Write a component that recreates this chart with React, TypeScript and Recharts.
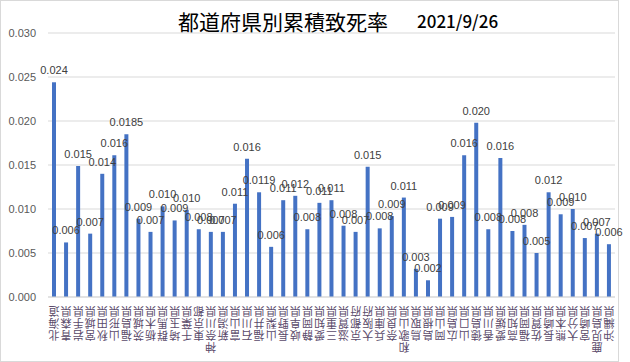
import { BarChart, Bar, XAxis, YAxis, CartesianGrid, LabelList } from "recharts";

const prefectures = [
    "北海道", "青森県", "岩手県", "宮城県", "秋田県", "山形県", "福島県", "茨城県",
    "栃木県", "群馬県", "埼玉県", "千葉県", "東京都", "神奈川県", "新潟県", "富山県",
    "石川県", "福井県", "山梨県", "長野県", "岐阜県", "静岡県", "愛知県", "三重県",
    "滋賀県", "京都府", "大阪府", "兵庫県", "奈良県", "和歌山県", "鳥取県", "島根県",
    "岡山県", "広島県", "山口県", "徳島県", "香川県", "愛媛県", "高知県", "福岡県",
    "佐賀県", "長崎県", "熊本県", "大分県", "宮崎県", "鹿児島県", "沖縄県",
];

const deathRates = [
    0.0244, 0.0062, 0.0149, 0.0072, 0.0140, 0.0161, 0.0185, 0.0089,
    0.0074, 0.0103, 0.0087, 0.0099, 0.0077, 0.0074, 0.0074, 0.0106,
    0.0157, 0.0119, 0.0057, 0.0110, 0.0115, 0.0077, 0.0107, 0.0110,
    0.0081, 0.0074, 0.0148, 0.0078, 0.0092, 0.0113, 0.0032, 0.0019,
    0.0089, 0.0091, 0.0161, 0.0198, 0.0077, 0.0158, 0.0075, 0.0082,
    0.0050, 0.0119, 0.0094, 0.0100, 0.0067, 0.0072, 0.0060,
];

const rateLabels = [
    "0.024", "0.006", "0.015", "0.007", "0.014", "0.016", "0.0185", "0.009",
    "0.007", "0.010", "0.009", "0.010", "0.008", "0.007", "0.007", "0.011",
    "0.016", "0.0119", "0.006", "0.011", "0.012", "0.008", "0.011", "0.011",
    "0.008", "0.007", "0.015", "0.008", "0.009", "0.011", "0.003", "0.002",
    "0.009", "0.009", "0.016", "0.020", "0.008", "0.016", "0.008", "0.008",
    "0.005", "0.012", "0.009", "0.010", "0.007", "0.007", "0.006",
];

const yTicks = [0, 0.005, 0.01, 0.015, 0.02, 0.025, 0.03];

const data = prefectures.map((name, i) => ({
    name,
    value: deathRates[i],
    label: rateLabels[i],
}));

// vertical label, upside down (last char on top)
const PrefTick = (props: any) => {
    const { x, y, payload } = props;
    const chars = String(payload.value).split("").reverse();
    return (
        <g>
            {chars.map((c, i) => {
                const cy = y + 15 + i * 12;
                return (
                    <text
                        key={i}
                        x={x}
                        y={cy}
                        textAnchor="middle"
                        dominantBaseline="central"
                        fontSize={11}
                        fontFamily="'Noto Sans CJK JP', sans-serif"
                        fill="#5a4a6a"
                        transform={`rotate(180, ${x}, ${cy})`}
                    >
                        {c}
                    </text>
                );
            })}
        </g>
    );
};

const App = () => {
    return (
        <div style={{ position: "relative", width: 630, height: 362, background: "#fff" }}>
            <style>{`body{margin:0}`}</style>
            <div
                style={{
                    position: "absolute",
                    left: 0,
                    top: 0,
                    width: 619,
                    height: 362,
                    boxSizing: "border-box",
                    border: "1px solid #d9d9d9",
                }}
            />
            <div
                style={{
                    position: "absolute",
                    left: 178,
                    top: 11,
                    fontSize: 21,
                    lineHeight: "21px",
                    fontFamily: "'Noto Sans CJK JP', sans-serif",
                    color: "#000",
                    whiteSpace: "nowrap",
                }}
            >
                都道府県別累積致死率
            </div>
            <div
                style={{
                    position: "absolute",
                    left: 417,
                    top: 12,
                    fontSize: 17,
                    lineHeight: "17px",
                    fontWeight: 500,
                    fontFamily: "'Noto Sans CJK JP', sans-serif",
                    color: "#000",
                    whiteSpace: "nowrap",
                }}
            >
                2021/9/26
            </div>
            <div style={{ position: "absolute", left: 0, top: 0 }}>
                <BarChart
                    width={630}
                    height={362}
                    data={data}
                    margin={{ top: 33, right: 15, left: 0, bottom: 0 }}
                >
                    <CartesianGrid vertical={false} stroke="#d9d9d9" />
                    <XAxis
                        dataKey="name"
                        interval={0}
                        height={65}
                        tick={<PrefTick />}
                        tickLine={false}
                        tickSize={0}
                        tickMargin={0}
                        axisLine={{ stroke: "#d9d9d9" }}
                    />
                    <YAxis
                        width={48}
                        domain={[0, 0.03]}
                        ticks={yTicks}
                        axisLine={false}
                        tickLine={false}
                        tickSize={0}
                        tickMargin={12}
                        tickFormatter={(v: number) => v.toFixed(3)}
                        tick={{ fontSize: 11, fill: "#595959", fontFamily: "'Liberation Sans', Arial, sans-serif" }}
                    />
                    <Bar dataKey="value" fill="#4472C4" barSize={4} isAnimationActive={false}>
                        <LabelList
                            dataKey="label"
                            position="top"
                            offset={8}
                            fontSize={11}
                            fill="#404040"
                            fontFamily="'Liberation Sans', Arial, sans-serif"
                        />
                    </Bar>
                </BarChart>
            </div>
        </div>
    );
};

export default App;
